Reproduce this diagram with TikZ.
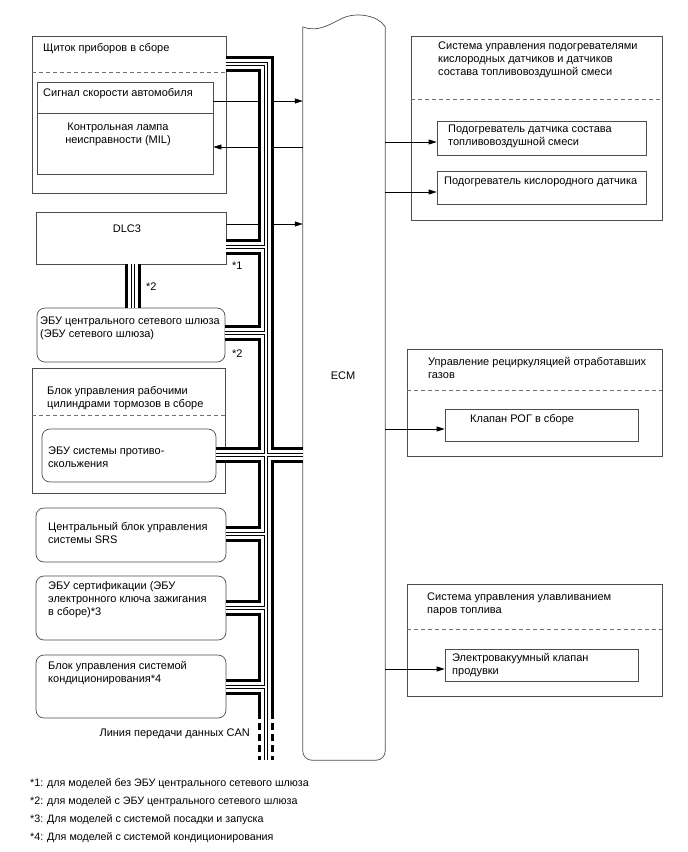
\documentclass[tikz,border=0pt]{standalone}
\usepackage{fontspec}
\setmainfont{Liberation Sans}
\usepackage{tikz}
\usetikzlibrary{arrows.meta,positioning,fit,calc}
\definecolor{boxgray}{HTML}{4D4D4D}
\definecolor{dashgray}{HTML}{707070}

\begin{document}
\begin{tikzpicture}[x=1pt,y=-1pt,
	box/.style={draw=boxgray,line width=0.7pt,inner sep=0pt},
	rbox/.style={box,rounded corners=8pt},
	sep/.style={dashgray,line width=0.8pt,dash pattern=on 4pt off 3pt},
	txt/.style={inner sep=0pt,anchor=north west,align=left,font=\fontsize{11}{13}\selectfont,execute at begin node=\strut},
	sig/.style={-{Triangle[length=8pt,width=5pt]},line width=0.7pt}
	]
	\useasboundingbox (0,0) rectangle (688,852);

	% left side units
	\node[box,fit={(32,36)(226,193)}] (cluster) {};
	\draw[sep] (32,72) -- (226,72);
	\node[box,fit={(37,82)(213,113)}] (spd) {};
	\node[box,fit={(37,113)(213,174)}] (mil) {};
	\node[txt] (clusterT) at (43,41.7) {Щиток приборов в сборе};
	\node[txt] (spdT) at (43,86.7) {Сигнал скорости автомобиля};
	\node[txt,anchor=north,align=center] (milT) at (118,122.7) {Контрольная лампа\\неисправности (MIL)};

	\node[box,fit={(36,212)(226,264)}] (dlc) {};
	\node[txt,anchor=north] (dlcT) at (127,222.7) {DLC3};

	\node[rbox,fit={(37,308)(225,362)}] (cgw) {};
	\node[txt] (cgwT) at (40,316.7) {ЭБУ центрального сетевого шлюза\\(ЭБУ сетевого шлюза)};

	\node[box,fit={(32,368)(225,493)}] (brk) {};
	\draw[sep] (32,415) -- (225,415);
	\node[txt] (brkT) at (47,386.7) {Блок управления рабочими\\цилиндрами тормозов в сборе};
	\node[rbox,fit={(42,429)(216,482)}] (abs) {};
	\node[txt] (absT) at (48,446.7) {ЭБУ системы противо-\\скольжения};

	\node[rbox,fit={(36,508)(226,562)}] (srs) {};
	\node[txt] (srsT) at (48,521.7) {Центральный блок управления\\системы SRS};

	\node[rbox,fit={(36,576)(226,640)}] (cert) {};
	\node[txt] (certT) at (48,581.7) {ЭБУ сертификации (ЭБУ\\электронного ключа зажигания\\в сборе)*3};

	\node[rbox,fit={(36,655)(226,718)}] (acu) {};
	\node[txt] (acuT) at (48,660.7) {Блок управления системой\\кондиционирования*4};

	% ECM
	\node[fit={(303,27)(385,760)},inner sep=0pt] (ecm) {};
	\draw[box] (ecm.north west) .. controls (318,33) and (330,24) .. (343,18)
		.. controls (356,12) and (378,15) .. (ecm.north east);
	\draw[box,rounded corners=9pt] (ecm.north east) -- (ecm.south east) -- (ecm.south west) -- (ecm.north west);
	\node[txt,anchor=north] (ecmT) at (343,369.7) {ECM};

	% right side systems
	\node[box,fit={(411,36)(662,220)}] (htrsys) {};
	\draw[sep] (411,99) -- (662,99);
	\node[txt] (htrsysT) at (438,41.7) {Система управления подогревателями\\кислородных датчиков и датчиков\\состава топливовоздушной смеси};
	\node[box,fit={(437,121)(646,155)}] (afh) {};
	\node[txt] (afhT) at (448,124.7) {Подогреватель датчика состава\\топливовоздушной смеси};
	\node[box,fit={(437,171)(646,204)}] (o2h) {};
	\node[txt] (o2hT) at (444,174.7) {Подогреватель кислородного датчика};

	\node[box,fit={(407,349)(662,456)}] (egrsys) {};
	\draw[sep] (407,390) -- (662,390);
	\node[txt] (egrsysT) at (428,356.7) {Управление рециркуляцией отработавших\\газов};
	\node[box,fit={(445,409)(638,441)}] (egrv) {};
	\node[txt] (egrvT) at (470,412.7) {Клапан РОГ в сборе};

	\node[box,fit={(407,584)(662,696)}] (evapsys) {};
	\draw[sep] (407,629) -- (662,629);
	\node[txt] (evapsysT) at (427,592.7) {Система управления улавливанием\\паров топлива};
	\node[box,fit={(445,649)(638,681)}] (vsv) {};
	\node[txt] (vsvT) at (452,652.7) {Электровакуумный клапан\\продувки};

	% signal lines
	\draw[sig] ([yshift=-3.5pt]spd.east) -- ([yshift=-3.5pt]spd.east -| ecm.west);
	\draw[sig] ([yshift=-3.5pt]mil.east -| ecm.west) -- ([yshift=-3.5pt]mil.east);
	\draw[sig] ([yshift=14pt]dlc.east) -- ([yshift=14pt]dlc.east -| ecm.west);
	\draw[sig] ([yshift=-4pt]afh.west -| ecm.east) -- ([yshift=-4pt]afh.west);
	\draw[sig] ([yshift=-4.5pt]o2h.west -| ecm.east) -- ([yshift=-4.5pt]o2h.west);
	\draw[sig] ([yshift=-4pt]egrv.west -| ecm.east) -- ([yshift=-4pt]egrv.west);
	\draw[sig] ([yshift=-4pt]vsv.west -| ecm.east) -- ([yshift=-4pt]vsv.west);

	% CAN bus
	\coordinate (busTop) at (266,63.5);
	\coordinate (busEnd) at (266,712);
	\coordinate (busTail) at (266,760);
	\foreach \w/\c in {16/black,10/white,4/black,2/white}
		\draw[line width=\w pt,draw=\c,line join=miter]
			(cluster.east |- busTop) -- (busTop) -- (busEnd)
			(dlc.east |- 0,247) -- (busTop |- 0,247)
			(cgw.east |- 0,332.5) -- (busTop |- 0,332.5)
			(abs.east |- 0,455) -- (ecm.west |- 0,455)
			(srs.east |- 0,533.5) -- (busTop |- 0,533.5)
			(cert.east |- 0,608) -- (busTop |- 0,608)
			(acu.east |- 0,687) -- (busTop |- 0,687)
			(dlc.south -| 132.5,0) -- (cgw.north -| 132.5,0);
	\draw[line width=3pt,dash pattern=on 7pt off 4pt]
		([xshift=-6.5pt]busEnd) -- ([xshift=-6.5pt]busTail)
		([xshift=6.5pt]busEnd) -- ([xshift=6.5pt]busTail);
	\draw[line width=1pt]
		([xshift=-1.5pt]busEnd) -- ([xshift=-1.5pt]busTail)
		([xshift=1.5pt]busEnd) -- ([xshift=1.5pt]busTail);

	\node[txt] (mark1) at (232,259.7) {*1};
	\node[txt] (mark2a) at (146,280.7) {*2};
	\node[txt] (mark2b) at (232,347.7) {*2};
	\node[txt,anchor=north east] (canT) at (250,726.7) {Линия передачи данных CAN};

	% footnotes
	\node[txt,font=\fontsize{10.7}{18}\selectfont] (notes) at (30,778.5) {*1: для моделей без ЭБУ центрального сетевого шлюза\\*2: для моделей с ЭБУ центрального сетевого шлюза\\*3: Для моделей с системой посадки и запуска\\*4: Для моделей с системой кондиционирования};
\end{tikzpicture}
\end{document}
